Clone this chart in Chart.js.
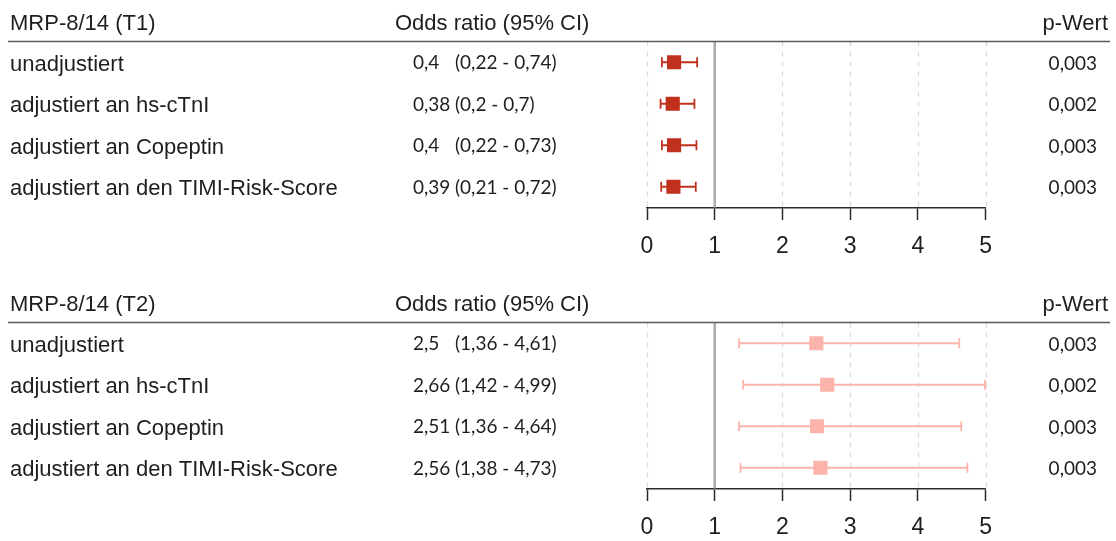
<!DOCTYPE html>
<html>
<head>
<meta charset="utf-8">
<script src="https://cdn.jsdelivr.net/npm/chart.js@4.4.1/dist/chart.umd.min.js"></script>
<style>
  html, body { margin: 0; padding: 0; background: #ffffff; }
  #wrap { position: relative; width: 1116px; height: 541px; }
  .panel { position: absolute; left: 0; width: 1116px; height: 260px; }
</style>
</head>
<body>
<div id="wrap">
  <div class="panel" style="top:0"><canvas id="panelT1"></canvas></div>
  <div class="panel" style="top:281px"><canvas id="panelT2"></canvas></div>
</div>
<script>
// Model rows (shared by both tertiles)
const rowLabels = [
  'unadjustiert',
  'adjustiert an hs-cTnI',
  'adjustiert an Copeptin',
  'adjustiert an den TIMI-Risk-Score'
];

// MRP-8/14, tertile 1
const t1Odds = [0.4, 0.38, 0.4, 0.39];
const t1Lower = [0.22, 0.2, 0.22, 0.21];
const t1Upper = [0.74, 0.7, 0.73, 0.72];
const t1PValues = ['0,003', '0,002', '0,003', '0,003'];

// MRP-8/14, tertile 2
const t2Odds = [2.5, 2.66, 2.51, 2.56];
const t2Lower = [1.36, 1.42, 1.36, 1.38];
const t2Upper = [4.61, 4.99, 4.64, 4.73];
const t2PValues = ['0,003', '0,002', '0,003', '0,003'];

// Odds-ratio axis
const axisTicks = [0, 1, 2, 3, 4, 5];
const referenceLine = 1;

const LABEL_FONT = '"Liberation Sans", Arial, sans-serif';
const NUM_FONT = 'Lato, "Open Sans", sans-serif';
const TEXT_COLOR = '#1e1e1e';

const fmt = v => String(v).replace('.', ',');

// Draws the table columns, header rule, grid, reference line and CI whiskers
const forestPlugin = {
  id: 'forest',
  beforeDatasetsDraw(chart, args, opts) {
    const { ctx, chartArea, scales: { x, y } } = chart;
    ctx.save();
    // dashed vertical guides
    ctx.strokeStyle = '#dcdcdc';
    ctx.lineWidth = 1.3;
    ctx.setLineDash([5, 5]);
    axisTicks.forEach(t => {
      if (t === referenceLine) return;
      const px = Math.round(x.getPixelForValue(t)) + 0.5;
      ctx.beginPath();
      ctx.moveTo(px, chartArea.top);
      ctx.lineTo(px, chartArea.bottom);
      ctx.stroke();
    });
    ctx.setLineDash([]);
    // line of no effect
    ctx.strokeStyle = '#ababab';
    ctx.lineWidth = 2.5;
    const rx = x.getPixelForValue(referenceLine);
    ctx.beginPath();
    ctx.moveTo(rx, chartArea.top);
    ctx.lineTo(rx, chartArea.bottom);
    ctx.stroke();
    // confidence intervals
    ctx.strokeStyle = opts.color;
    ctx.lineWidth = 1.8;
    opts.lower.forEach((lo, i) => {
      const py = y.getPixelForValue(i + 1);
      const x1 = x.getPixelForValue(lo);
      const x2 = x.getPixelForValue(opts.upper[i]);
      ctx.beginPath();
      ctx.moveTo(x1, py); ctx.lineTo(x2, py);
      ctx.moveTo(x1, py - 5); ctx.lineTo(x1, py + 5);
      ctx.moveTo(x2, py - 5); ctx.lineTo(x2, py + 5);
      ctx.stroke();
    });
    ctx.restore();
  },
  afterDraw(chart, args, opts) {
    const { ctx, chartArea, scales: { y } } = chart;
    ctx.save();
    // header rule
    ctx.strokeStyle = '#5a5a5a';
    ctx.lineWidth = 1.6;
    ctx.beginPath();
    ctx.moveTo(8, chartArea.top);
    ctx.lineTo(1110, chartArea.top);
    ctx.stroke();

    ctx.fillStyle = TEXT_COLOR;
    ctx.textBaseline = 'alphabetic';
    // headers
    ctx.font = '22px ' + LABEL_FONT;
    ctx.textAlign = 'left';
    ctx.fillText(opts.title, 10, 30);
    ctx.fillText('Odds ratio (95% CI)', 395, 30);
    ctx.textAlign = 'right';
    ctx.fillText('p-Wert', 1108, 30);

    rowLabels.forEach((label, i) => {
      const py = y.getPixelForValue(i + 1);
      ctx.font = '22px ' + LABEL_FONT;
      ctx.textAlign = 'left';
      ctx.fillText(label, 10, py + 8.5);
      ctx.font = '19px ' + NUM_FONT;
      ctx.fillText(fmt(opts.odds[i]), 413, py + 7);
      ctx.fillText('(' + fmt(opts.lower[i]) + ' - ' + fmt(opts.upper[i]) + ')', 455, py + 7);
      ctx.textAlign = 'right';
      ctx.fillText(opts.pValues[i], 1097, py + 7.5);
    });
    ctx.restore();
  }
};

function buildPanel(canvasId, title, odds, lower, upper, pValues, color) {
  return new Chart(document.getElementById(canvasId), {
    type: 'scatter',
    data: {
      datasets: [{
        data: odds.map((v, i) => ({ x: v, y: i + 1 })),
        pointStyle: 'rect',
        pointRadius: 10,
        pointHoverRadius: 10,
        backgroundColor: color,
        borderColor: color,
        borderWidth: 0
      }]
    },
    options: {
      responsive: true,
      maintainAspectRatio: false,
      animation: false,
      events: [],
      layout: { padding: { left: 647, right: 130.3, top: 41.5, bottom: 0 } },
      scales: {
        x: {
          type: 'linear',
          min: 0,
          max: 5,
          afterBuildTicks: s => { s.ticks = axisTicks.map(v => ({ value: v })); },
          afterFit: s => { s.height = 52.5; },
          grid: {
            drawOnChartArea: false,
            drawTicks: true,
            tickLength: 12.5,
            tickColor: '#2a2a2a',
            tickWidth: 1.5
          },
          border: { display: true, color: '#2a2a2a', width: 1.5 },
          ticks: {
            padding: 13,
            color: TEXT_COLOR,
            font: { family: LABEL_FONT, size: 23 },
            callback: v => String(v)
          }
        },
        y: {
          type: 'linear',
          min: 0.5,
          max: 4.5,
          reverse: true,
          display: false
        }
      },
      plugins: {
        legend: { display: false },
        tooltip: { enabled: false },
        forest: { title, odds, lower, upper, pValues, color }
      }
    },
    plugins: [forestPlugin]
  });
}

buildPanel('panelT1', 'MRP-8/14 (T1)', t1Odds, t1Lower, t1Upper, t1PValues, '#c0301d');
buildPanel('panelT2', 'MRP-8/14 (T2)', t2Odds, t2Lower, t2Upper, t2PValues, '#fbb3ab');
</script>
</body>
</html>
